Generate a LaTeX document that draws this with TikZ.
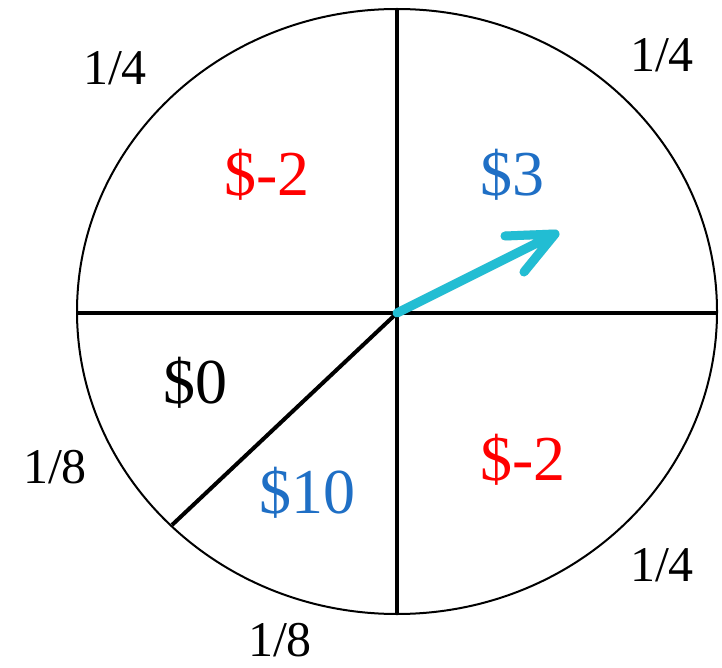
\documentclass[tikz,border=0pt]{standalone}
\usepackage{fontspec}
\setmainfont{Liberation Serif}
\definecolor{myred}{HTML}{FF0000}
\definecolor{myblue}{HTML}{1F6FC5}
\definecolor{mycyan}{HTML}{22BDD3}
\begin{document}
\begin{tikzpicture}[x=1pt,y=-1pt,
  prob/.style={font=\fontsize{50}{56}\selectfont},
  val/.style={font=\fontsize{64}{72}\selectfont},
  divider/.style={line width=4pt},
  arrowline/.style={line width=9pt, color=mycyan, line cap=round, line join=round}]
\useasboundingbox (0,0) rectangle (722,668);
\fill[white] (0,0) rectangle (722,668);
\coordinate (c) at (397,313);
\coordinate (top) at (397,9);
\coordinate (bot) at (397,614);
\coordinate (left) at (77,313);
\coordinate (right) at (717,313);
\coordinate (diag) at (172,525);
\coordinate (tip) at (555,234);
\coordinate (h1) at (505,236);
\coordinate (h2) at (524,272);
\draw[line width=2pt] (397,311.5) ellipse [x radius=320, y radius=302.5];
\draw[divider] (top) -- (bot);
\draw[divider] (left) -- (right);
\draw[divider] (c) -- (diag);
% shadow
\begin{scope}[shift={(3,5)}]
\draw[arrowline, color=black, opacity=0.15] (c) -- (tip) (h1) -- (tip) -- (h2);
\end{scope}
\draw[arrowline] (c) -- (tip) (h1) -- (tip) -- (h2);
\node[prob] (p1) at (115,68) {1/4};
\node[prob] (p2) at (662,55) {1/4};
\node[prob] (p3) at (55,467) {1/8};
\node[prob] (p4) at (662,565) {1/4};
\node[prob] (p5) at (280,640) {1/8};
\node[val, text=myred] (v1) at (267,175) {\$-2};
\node[val, text=myblue] (v2) at (512,175) {\$3};
\node[val] (v3) at (195,383) {\$0};
\node[val, text=myblue] (v4) at (307,493) {\$10};
\node[val, text=myred] (v5) at (523,460) {\$-2};
\end{tikzpicture}
\end{document}
